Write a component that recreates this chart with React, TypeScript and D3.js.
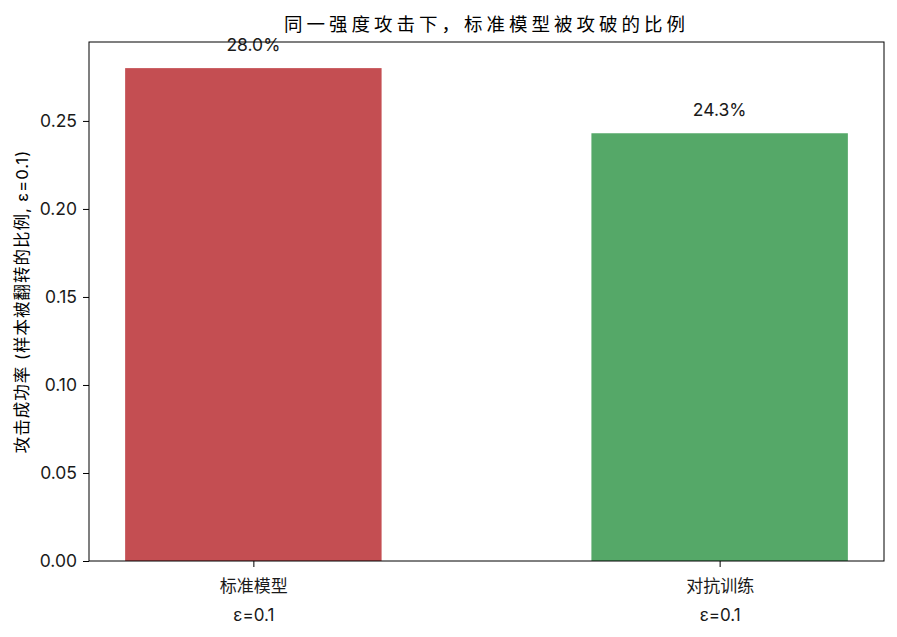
import { useEffect, useRef } from 'react'
import * as d3 from 'd3'

const CATEGORIES = ['标准模型\nε=0.1', '对抗训练\nε=0.1']
const VALUES = [0.280, 0.243]
const COLORS = ['#C44E52', '#55A868']
const Y_TICKS = [0, 0.05, 0.1, 0.15, 0.2, 0.25]
const TITLE = '同一强度攻击下，标准模型被攻破的比例'
const Y_LABEL = '攻击成功率 (样本被翻转的比例, ε=0.1)'

const FONT = 'Inter, "Noto Sans CJK SC", sans-serif'

export default function App() {
  const svgRef = useRef<SVGSVGElement>(null)

  useEffect(() => {
    const svgEl = svgRef.current
    if (!svgEl) return
    const totalW = 897
    const totalH = 637
    const margin = { top: 42, right: 13, bottom: 76, left: 89 }
    const W = totalW - margin.left - margin.right
    const H = totalH - margin.top - margin.bottom

    const root = d3.select(svgEl)
    root.selectAll('*').remove()
    root.attr('width', totalW).attr('height', totalH)

    const svg = root.append('g').attr('transform', `translate(${margin.left},${margin.top})`)

    const barW = 0.55
    const lo = -barW / 2, hi = CATEGORIES.length - 1 + barW / 2
    const pad = (hi - lo) * 0.05
    const xScale = d3.scaleLinear().domain([lo - pad, hi + pad]).range([0, W])
    const yMax = d3.max(VALUES)! * 1.053
    const yScale = d3.scaleLinear().domain([0, yMax]).range([H, 0])

    // bars
    svg.selectAll('.bar')
      .data(VALUES).enter().append('rect')
      .attr('x', (_, i) => xScale(i - barW / 2))
      .attr('width', xScale(barW) - xScale(0))
      .attr('y', v => yScale(v))
      .attr('height', v => H - yScale(v))
      .attr('fill', (_, i) => COLORS[i])

    // value labels
    svg.selectAll('.val')
      .data(VALUES).enter().append('text')
      .attr('x', (_, i) => xScale(i))
      .attr('y', v => yScale(v) - 17)
      .attr('text-anchor', 'middle')
      .attr('font-family', FONT).attr('font-size', 17.5).attr('fill', '#1a1a1a')
      .text(v => `${(v * 100).toFixed(1)}%`)

    // frame
    svg.append('rect')
      .attr('x', 0).attr('y', 0).attr('width', W).attr('height', H)
      .attr('fill', 'none').attr('stroke', '#000').attr('stroke-width', 1)

    // y axis
    svg.append('g')
      .call(d3.axisLeft(yScale).tickValues(Y_TICKS).tickFormat(v => (+v).toFixed(2)).tickSize(6).tickPadding(6))
      .call(ax => {
        ax.select('.domain').remove()
        ax.selectAll('.tick line').attr('stroke', '#000')
        ax.selectAll('.tick text').attr('font-family', FONT).attr('font-size', 17.5).attr('fill', '#1a1a1a')
      })

    // x axis
    const xAxis = svg.append('g').attr('transform', `translate(0,${H})`)
      .call(d3.axisBottom(xScale).tickValues(d3.range(CATEGORIES.length)).tickFormat(() => '').tickSize(6))
    xAxis.select('.domain').remove()
    xAxis.selectAll('.tick line').attr('stroke', '#000')
    xAxis.selectAll<SVGGElement, number>('.tick').each(function (d) {
      const lines = CATEGORIES[d].split('\n')
      const t = d3.select(this).select('text')
        .attr('font-family', FONT).attr('font-size', 17).attr('fill', '#1a1a1a')
        .attr('y', 0).attr('dy', null)
      lines.forEach((ln, k) => {
        t.append('tspan').attr('x', 0).attr('y', 31 + k * 28.5).text(ln)
      })
    })

    // title
    svg.append('text')
      .attr('x', W / 2).attr('y', -11).attr('text-anchor', 'middle')
      .attr('font-family', FONT).attr('font-size', 18.5).attr('letter-spacing', 4).attr('fill', '#000')
      .text(TITLE)

    // y label
    svg.append('text')
      .attr('transform', 'rotate(-90)')
      .attr('x', -H / 2).attr('y', -61).attr('text-anchor', 'middle')
      .attr('font-family', FONT).attr('font-size', 16.5).attr('letter-spacing', 1).attr('fill', '#000')
      .text(Y_LABEL)
  }, [])

  return (
    <div style={{ margin: -8, background: '#fff' }}>
      <svg ref={svgRef} style={{ display: 'block' }} />
    </div>
  )
}
